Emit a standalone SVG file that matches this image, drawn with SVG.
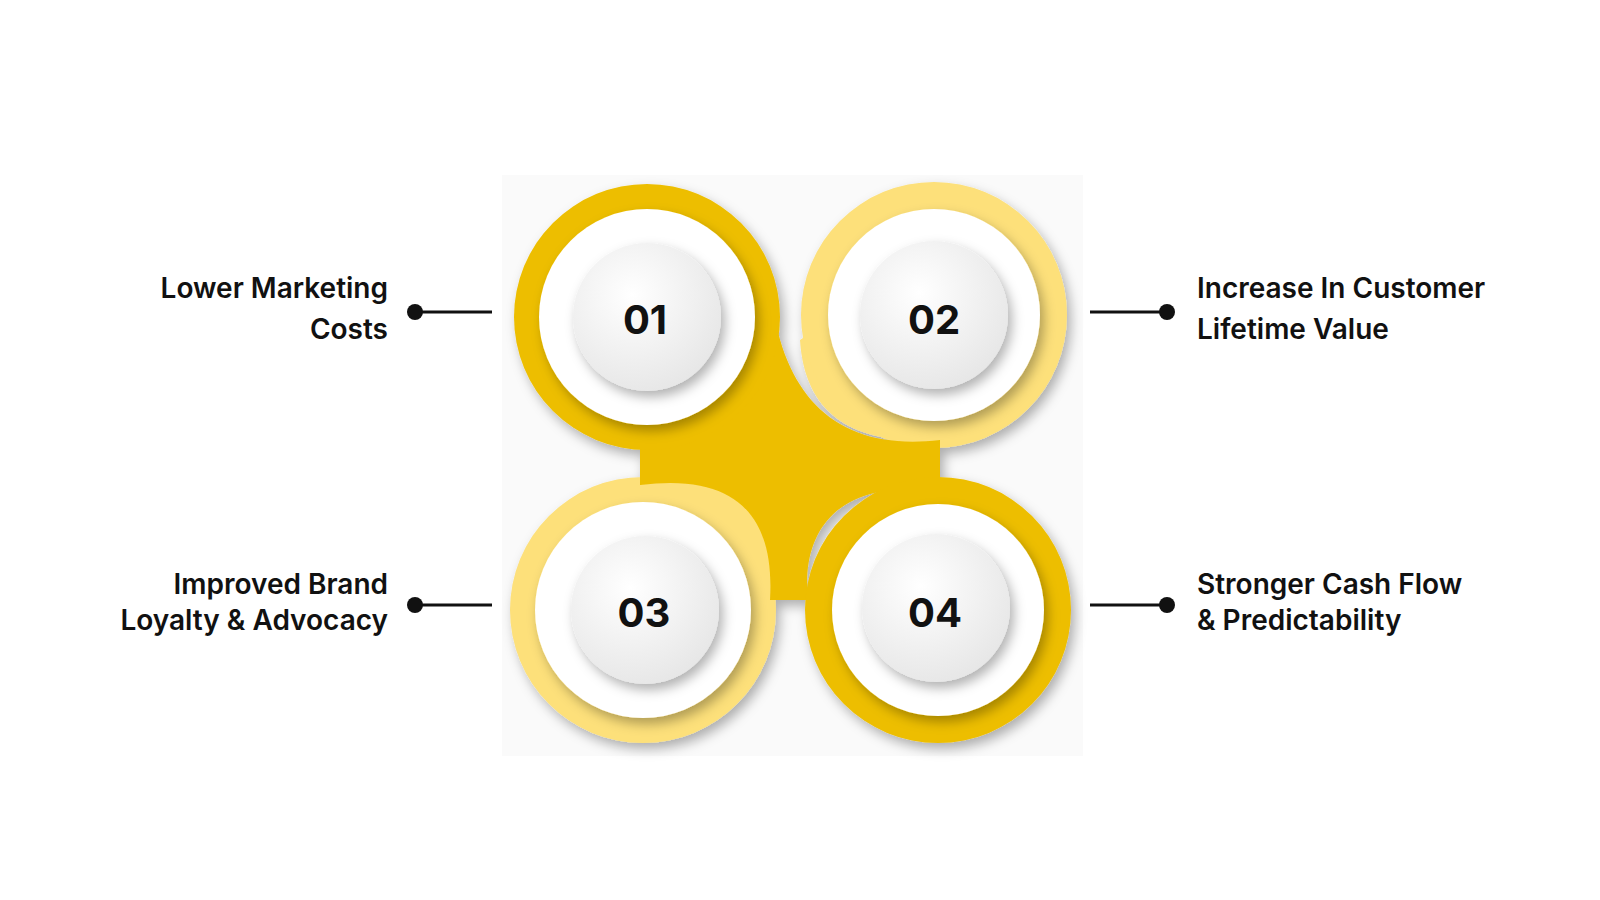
<svg xmlns="http://www.w3.org/2000/svg" width="1600" height="900" viewBox="0 0 1600 900">
<defs>
<filter id="sh" x="-30%" y="-30%" width="160%" height="160%"><feDropShadow dx="4" dy="6" stdDeviation="6" flood-color="#000" flood-opacity="0.3"/></filter>
<radialGradient id="disc" cx="0.4" cy="0.35" r="0.7"><stop offset="0" stop-color="#ffffff"/><stop offset="1" stop-color="#e6e6e6"/></radialGradient>
<style>
.dk{fill:#EDBE00}.lt{fill:#FDE07A}.hole{fill:#ffffff}
.num{font-family:Inter,"Liberation Sans",sans-serif;font-weight:700;font-size:40px;fill:#111;text-anchor:middle}
.lbl{font-family:Inter,"Liberation Sans",sans-serif;font-weight:600;font-size:28px;fill:#111}
.ln{stroke:#111;stroke-width:3}
</style>
</defs>
<rect width="1600" height="900" fill="#fff"/>
<rect x="502" y="175" width="581" height="581" fill="#FAFAFA"/>
<g id="shape" filter="url(#sh)">
<path class="lt" d="M800,340 C805,420 860,445 940,440 L960,380 L860,300 Z"/>
<path class="lt" d="M785,570 C775,500 730,478 640,482 L620,540 L740,620 Z"/>
<circle class="lt" cx="934" cy="315" r="133"/>
<circle class="lt" cx="643" cy="610" r="133"/>
<path class="dk" d="M776,300 L772,300 C785,400 840,452 940,440 L940,492 C850,478 800,520 808,600 L770,600 C775,520 740,472 640,485 L640,440 C730,448 765,400 776,300 Z"/>
<circle class="dk" cx="647" cy="317" r="133"/>
<circle class="dk" cx="938" cy="610" r="133"/>
</g>
<g id="n1"><circle class="hole" cx="647" cy="317" r="108" filter="url(#sh)"/><circle cx="647" cy="317" r="74" fill="url(#disc)" filter="url(#sh)"/><text class="num" x="645" y="334">01</text></g>
<g id="n2"><circle class="hole" cx="934" cy="315" r="106" filter="url(#sh)"/><circle cx="934" cy="315" r="74" fill="url(#disc)" filter="url(#sh)"/><text class="num" x="934" y="334">02</text></g>
<g id="n3"><circle class="hole" cx="643" cy="610" r="108" filter="url(#sh)"/><circle cx="645" cy="610" r="74" fill="url(#disc)" filter="url(#sh)"/><text class="num" x="644" y="627">03</text></g>
<g id="n4"><circle class="hole" cx="938" cy="610" r="106" filter="url(#sh)"/><circle cx="936" cy="608" r="74" fill="url(#disc)" filter="url(#sh)"/><text class="num" x="935" y="627">04</text></g>
<g id="connectors">
<line class="ln" x1="415" y1="312" x2="492" y2="312"/><circle cx="415" cy="312" r="8" fill="#111"/>
<line class="ln" x1="415" y1="605" x2="492" y2="605"/><circle cx="415" cy="605" r="8" fill="#111"/>
<line class="ln" x1="1090" y1="312" x2="1167" y2="312"/><circle cx="1167" cy="312" r="8" fill="#111"/>
<line class="ln" x1="1090" y1="605" x2="1167" y2="605"/><circle cx="1167" cy="605" r="8" fill="#111"/>
</g>
<g id="labels">
<text class="lbl" x="388" y="298" text-anchor="end">Lower Marketing</text>
<text class="lbl" x="388" y="339" text-anchor="end">Costs</text>
<text class="lbl" x="388" y="594" text-anchor="end">Improved Brand</text>
<text class="lbl" x="388" y="630" text-anchor="end">Loyalty &amp; Advocacy</text>
<text class="lbl" x="1197" y="298">Increase In Customer</text>
<text class="lbl" x="1197" y="339">Lifetime Value</text>
<text class="lbl" x="1197" y="594">Stronger Cash Flow</text>
<text class="lbl" x="1197" y="630">&amp; Predictability</text>
</g>
</svg>
